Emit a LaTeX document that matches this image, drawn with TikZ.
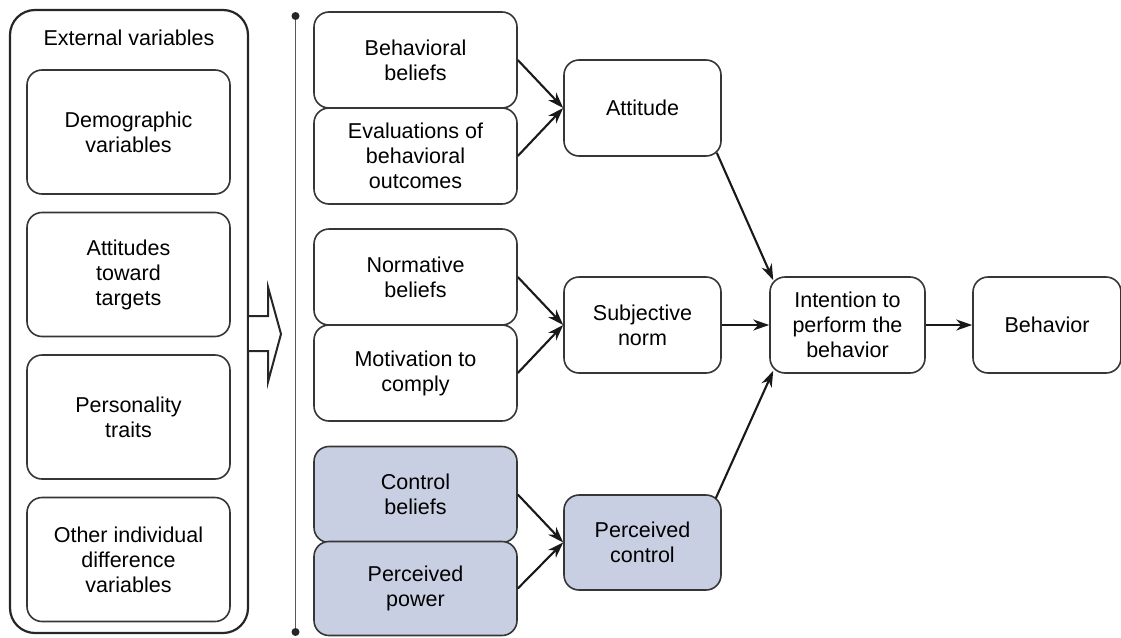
\documentclass[tikz,border=0pt]{standalone}
\usepackage{fontspec}
\setmainfont{Liberation Sans}
\usetikzlibrary{arrows.meta}
\definecolor{boxline}{HTML}{363636}
\definecolor{bluefill}{RGB}{201,207,226}
\begin{document}
\begin{tikzpicture}[x=1pt,y=-1pt,
  every node/.style={font=\fontsize{21.5}{25}\selectfont, align=center, inner sep=0pt},
  box/.style={draw=boxline, line width=1.6pt, rounded corners=15pt, fill=white},
  midbox/.style={box, minimum width=203pt, minimum height=96pt},
  rbox/.style={box, minimum width=157pt, minimum height=96pt},
  extbox/.style={box, minimum width=203pt, minimum height=124pt},
  blue/.style={fill=bluefill},
  arr/.style={line width=2.1pt, draw=black!90, -{Stealth[length=16pt,width=11pt,inset=5pt]}}]
\useasboundingbox (0,0) rectangle (1121,637);
% external variables
\node (ext) [draw=black!85, line width=2.2pt, rounded corners=25pt, minimum width=238pt, minimum height=623pt] at (129,321.5) {};
\node (exttitle) at (129,38) {External variables};
\node (demo) [extbox] at (128.5,132) {Demographic\\variables};
\node (targ) [extbox] at (128.5,274.5) {Attitudes\\toward\\targets};
\node (pers) [extbox] at (128.5,417) {Personality\\traits};
\node (other) [extbox] at (128.5,559.5) {Other individual\\difference\\variables};
% block arrow
\draw[draw=black!85, line width=2pt, fill=white, line join=miter]
  (249,316) -- (268,316) -- (268,287) -- (281,334) -- (268,382) -- (268,351) -- (249,351);
% vertical line
\coordinate (vtop) at (295.5,16);
\coordinate (vbot) at (295.5,632);
\draw[line width=1.5pt, draw=black!65] (vtop) -- (vbot);
\fill[black!85] (vtop) circle (4pt);
\fill[black!85] (vbot) circle (4pt);
% middle column
\node (bb) [midbox] at (415.5,60) {Behavioral\\beliefs};
\node (ev) [midbox] at (415.5,156) {Evaluations of\\behavioral\\outcomes};
\node (nb) [midbox] at (415.5,277) {Normative\\beliefs};
\node (mc) [midbox] at (415.5,373) {Motivation to\\comply};
\node (cb) [midbox, blue] at (415.5,494.5) {Control\\beliefs};
\node (pp) [midbox, blue, minimum height=94pt] at (415.5,588.5) {Perceived\\power};
% right column
\node (att) [rbox] at (642.5,108) {Attitude};
\node (sn) [rbox] at (642.5,325) {Subjective\\norm};
\node (pc) [rbox, blue, minimum height=95pt] at (642.5,542.5) {Perceived\\control};
\node (int) [rbox, minimum width=155pt] at (847.5,325) {Intention to\\perform the\\behavior};
\node (beh) [rbox, minimum width=148pt] at (1047,325) {Behavior};
% arrows
\draw[arr] (bb.east) -- (att.west);
\draw[arr] (ev.east) -- (att.west);
\draw[arr] (nb.east) -- (sn.west);
\draw[arr] (mc.east) -- (sn.west);
\draw[arr] (cb.east) -- (pc.west);
\draw[arr] (pp.east) -- (pc.west);
\draw[arr] ([shift={(-5,-4)}]att.south east) -- ([shift={(4,4)}]int.north west);
\draw[arr] ([shift={(-6,4)}]pc.north east) -- ([shift={(4,-3)}]int.south west);
\draw[arr] (sn.east) -- (int.west);
\draw[arr] (int.east) -- (beh.west);
\end{tikzpicture}
\end{document}
